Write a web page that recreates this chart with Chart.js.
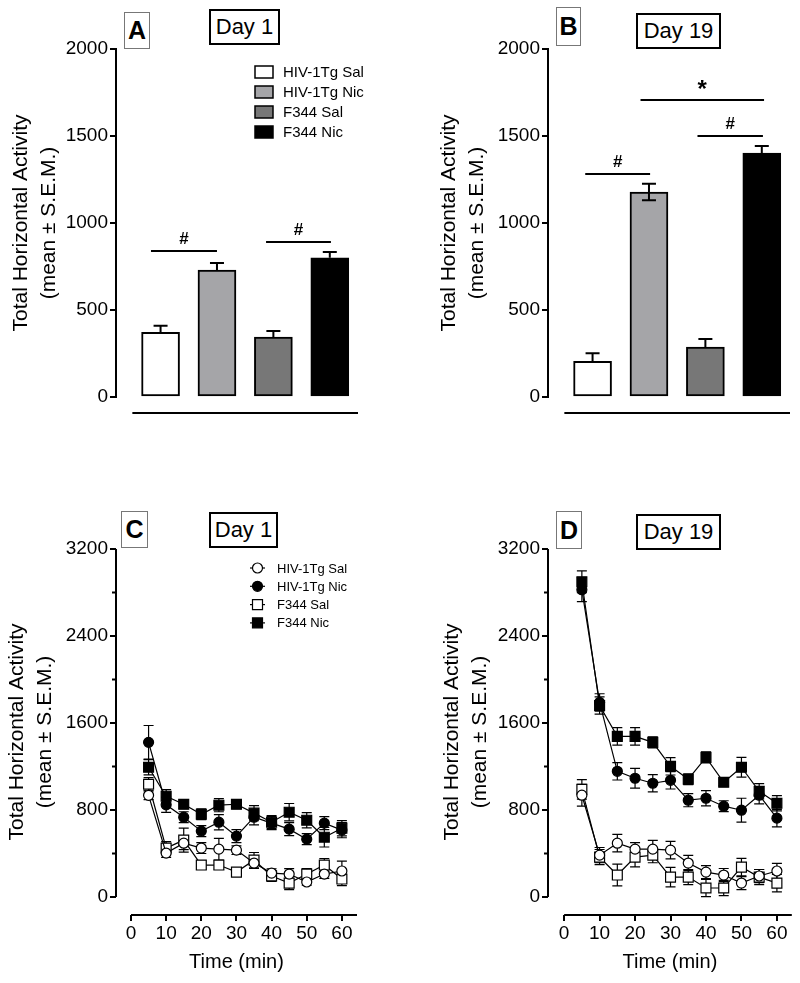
<!DOCTYPE html>
<html>
<head>
<meta charset="utf-8">
<script src="https://cdn.jsdelivr.net/npm/chart.js@4.4.1/dist/chart.umd.min.js"></script>
<style>
    body { margin: 0; background: #fff; }
    #page { position: relative; width: 800px; height: 983px; overflow: hidden; font-family: "Liberation Sans", Arial, sans-serif; }
    canvas { position: absolute; }
    .tag { position: absolute; box-sizing: border-box; display: flex; align-items: center; justify-content: center;
           border: 2px solid #000; background: #fff; font-size: 22px; color: #000; }
    .letter { border: 1px solid #777; font-weight: bold; font-size: 25px; }
</style>
</head>
<body>
<div id="page">
    <canvas id="chartA" width="400" height="440" style="left:0;top:0"></canvas>
    <canvas id="chartB" width="400" height="440" style="left:400px;top:0"></canvas>
    <canvas id="chartC" width="400" height="483" style="left:0;top:500px"></canvas>
    <canvas id="chartD" width="400" height="483" style="left:400px;top:500px"></canvas>

    <div class="tag letter" style="left:124px;top:12px;width:26px;height:37px">A</div>
    <div class="tag" style="left:209px;top:9px;width:71px;height:36px">Day 1</div>
    <div class="tag letter" style="left:556px;top:7px;width:25px;height:39px">B</div>
    <div class="tag" style="left:636px;top:13px;width:85px;height:36px">Day 19</div>
    <div class="tag letter" style="left:121px;top:511px;width:27px;height:37px">C</div>
    <div class="tag" style="left:209px;top:512px;width:69px;height:36px">Day 1</div>
    <div class="tag letter" style="left:556px;top:511px;width:26px;height:38px">D</div>
    <div class="tag" style="left:636px;top:514px;width:85px;height:36px">Day 19</div>
</div>
<script>
Chart.defaults.font.family = '"Liberation Sans", Arial, sans-serif';
Chart.defaults.color = '#000';
Chart.defaults.animation = false;

// groups and bar totals
const groups = ['HIV-1Tg Sal', 'HIV-1Tg Nic', 'F344 Sal', 'F344 Nic'];
const barColors = ['#ffffff', '#a5a5a8', '#777777', '#000000'];
const day1Totals = [372, 730, 345, 800];
const day1Sem = [37, 40, 35, 33];
const day19Totals = [205, 1178, 287, 1402];
const day19Sem = [47, 47, 46, 40];
const barTicks = [0, 500, 1000, 1500, 2000];

// time course (5 min bins)
const times = [5, 10, 15, 20, 25, 30, 35, 40, 45, 50, 55, 60];
const timeTicks = [0, 10, 20, 30, 40, 50, 60];
const activityTicks = [0, 800, 1600, 2400, 3200];
const activityMinor = [400, 1200, 2000, 2800];

const d1HivSal = [935, 404, 495, 450, 440, 431, 312, 220, 211, 138, 211, 239];
const d1HivSalSem = [40, 40, 60, 50, 100, 40, 50, 40, 50, 30, 40, 90];
const d1HivNic = [1422, 848, 734, 606, 688, 560, 734, 679, 624, 532, 679, 615];
const d1HivNicSem = [155, 70, 50, 50, 70, 60, 70, 60, 60, 50, 60, 70];
const d1F344Sal = [1037, 450, 523, 294, 294, 229, 339, 193, 128, 211, 294, 165];
const d1F344SalSem = [60, 60, 110, 40, 40, 30, 70, 50, 60, 50, 60, 60];
const d1F344Nic = [1193, 927, 853, 761, 844, 853, 771, 688, 780, 706, 550, 633];
const d1F344NicSem = [70, 60, 40, 50, 60, 40, 70, 60, 80, 70, 90, 70];

const d19HivSal = [936, 385, 495, 440, 440, 431, 312, 229, 202, 128, 193, 239];
const d19HivSalSem = [100, 70, 80, 60, 80, 80, 70, 60, 60, 60, 60, 70];
const d19HivNic = [2826, 1789, 1156, 1092, 1046, 1073, 890, 908, 835, 798, 936, 725];
const d19HivNicSem = [110, 80, 80, 90, 80, 80, 60, 70, 50, 110, 80, 80];
const d19F344Sal = [990, 367, 202, 367, 385, 183, 183, 83, 83, 275, 183, 128];
const d19F344SalSem = [90, 70, 100, 90, 70, 90, 70, 80, 70, 80, 70, 80];
const d19F344Nic = [2899, 1761, 1477, 1477, 1422, 1202, 1083, 1284, 1055, 1193, 972, 862];
const d19F344NicSem = [100, 80, 80, 80, 50, 80, 50, 50, 30, 90, 70, 70];

const yTitle = ['Total Horizontal Activity', '(mean \u00b1 S.E.M.)'];

// error bars: under the markers for lines, over the bars for bars
function drawErrors(chart) {
    const ctx = chart.ctx;
    const ys = chart.scales.y;
    chart.data.datasets.forEach((ds, di) => {
        if (!ds.sem) return;
        const meta = chart.getDatasetMeta(di);
        const cap = ds.capHalf || 5;
        ctx.save();
        ctx.strokeStyle = '#000';
        ctx.lineWidth = ds.errWidth || 1.3;
        meta.data.forEach((el, i) => {
            const v = ds.data[i].y;
            const top = ys.getPixelForValue(v + ds.sem[i]);
            const bot = ds.errDown ? ys.getPixelForValue(v - ds.sem[i]) : ys.getPixelForValue(v);
            ctx.beginPath();
            ctx.moveTo(el.x, top);
            ctx.lineTo(el.x, bot);
            ctx.moveTo(el.x - cap, top);
            ctx.lineTo(el.x + cap, top);
            if (ds.errDown) {
                ctx.moveTo(el.x - cap, bot);
                ctx.lineTo(el.x + cap, bot);
            }
            ctx.stroke();
        });
        ctx.restore();
    });
}

const errorBars = {
    id: 'errorBars',
    beforeDatasetsDraw(chart) { if (chart.config.type === 'line') drawErrors(chart); },
    afterDatasetsDraw(chart) { if (chart.config.type === 'bar') drawErrors(chart); }
};

// GraphPad style detached axes
const graphAxes = {
    id: 'graphAxes',
    afterDraw(chart, args, opts) {
        const ctx = chart.ctx, xs = chart.scales.x, ys = chart.scales.y, area = chart.chartArea;
        ctx.save();
        ctx.strokeStyle = '#000';
        ctx.lineWidth = 2;
        ctx.beginPath();
        if (opts.baseline) {
            const yb = area.bottom + opts.baseline.offset;
            ctx.moveTo(xs.getPixelForValue(opts.baseline.from), yb);
            ctx.lineTo(xs.getPixelForValue(opts.baseline.to), yb);
        }
        if (opts.detached) {
            ctx.moveTo(area.left, ys.getPixelForValue(0));
            ctx.lineTo(area.left, ys.getPixelForValue(ys.max));
            ctx.moveTo(xs.getPixelForValue(0), area.bottom);
            ctx.lineTo(xs.getPixelForValue(xs.max), area.bottom);
        }
        (opts.minor || []).forEach(v => {
            const y = ys.getPixelForValue(v);
            ctx.moveTo(area.left, y);
            ctx.lineTo(area.left - 4, y);
        });
        ctx.stroke();
        ctx.restore();
    }
};

// significance lines
const sigMarks = {
    id: 'sigMarks',
    afterDatasetsDraw(chart, args, opts) {
        if (!opts.items) return;
        const ctx = chart.ctx, xs = chart.scales.x, ys = chart.scales.y;
        ctx.save();
        ctx.strokeStyle = '#000';
        ctx.fillStyle = '#000';
        ctx.lineWidth = 2;
        ctx.textAlign = 'center';
        ctx.textBaseline = 'middle';
        opts.items.forEach(it => {
            const x0 = xs.getPixelForValue(it.from), x1 = xs.getPixelForValue(it.to);
            const y = ys.getPixelForValue(it.at);
            ctx.beginPath();
            ctx.moveTo(x0, y);
            ctx.lineTo(x1, y);
            ctx.stroke();
            ctx.font = it.mark === '*' ? 'bold 24px "Liberation Sans"' : 'bold 17px "Liberation Sans"';
            ctx.fillText(it.mark, (x0 + x1) / 2, y - (it.mark === '*' ? 10 : 12));
        });
        ctx.restore();
    }
};

// legends drawn inside the plot
const innerLegend = {
    id: 'innerLegend',
    afterDraw(chart, args, opts) {
        if (!opts.kind) return;
        const ctx = chart.ctx, area = chart.chartArea;
        ctx.save();
        ctx.font = opts.fontSize + 'px "Liberation Sans"';
        ctx.textBaseline = 'middle';
        ctx.textAlign = 'left';
        chart.data.datasets.forEach((ds, i) => {
            const x = area.left + opts.dx;
            const y = area.top + opts.dy + i * opts.gap;
            ctx.strokeStyle = '#000';
            if (opts.kind === 'box') {
                ctx.fillStyle = ds.backgroundColor;
                ctx.lineWidth = 1.5;
                ctx.fillRect(x, y - 6, 18, 12);
                ctx.strokeRect(x, y - 6, 18, 12);
                ctx.fillStyle = '#000';
                ctx.fillText(ds.label, x + 28, y + 1);
            } else {
                ctx.lineWidth = 1.2;
                ctx.beginPath();
                ctx.moveTo(x, y);
                ctx.lineTo(x + 15, y);
                ctx.stroke();
                ctx.fillStyle = ds.pointBackgroundColor;
                ctx.beginPath();
                if (ds.pointStyle === 'rect') ctx.rect(x + 2.5, y - 5, 10, 10);
                else ctx.arc(x + 7.5, y, 5, 0, Math.PI * 2);
                ctx.fill();
                ctx.stroke();
                ctx.fillStyle = '#000';
                ctx.fillText(ds.label, x + 27, y + 1);
            }
        });
        ctx.restore();
    }
};

function barConfig(totals, sem, yTitlePad, axisWidth, padRight, sigItems, legendOn, downIdx) {
    return {
        type: 'bar',
        data: {
            datasets: groups.map((g, i) => ({
                label: g,
                data: [{ x: i + 1, y: totals[i] }],
                sem: [sem[i]],
                errDown: i === downIdx,
                capHalf: 7,
                errWidth: 2,
                backgroundColor: barColors[i],
                borderColor: '#000',
                borderWidth: 2,
                borderSkipped: false,
                barThickness: 38,
                grouped: false
            }))
        },
        options: {
            responsive: false,
            layout: { padding: { left: 0, top: 49, right: padRight, bottom: 43 } },
            scales: {
                x: { type: 'linear', min: 0.21, max: 4.5, offset: false, display: false },
                y: {
                    min: 0, max: 2000,
                    afterBuildTicks: s => { s.ticks = barTicks.map(v => ({ value: v })); },
                    afterFit: s => { s.width = axisWidth; },
                    border: { display: true, color: '#000', width: 2 },
                    grid: { drawOnChartArea: false, color: '#000', lineWidth: 2, tickLength: 6 },
                    ticks: { font: { size: 19 }, padding: 2, color: '#000', callback: v => String(v) },
                    title: {
                        display: true, text: yTitle, color: '#000',
                        font: { size: 21, lineHeight: 1.3 },
                        padding: { top: yTitlePad, bottom: 0 }
                    }
                }
            },
            plugins: {
                legend: { display: false },
                tooltip: { enabled: false },
                graphAxes: { baseline: { from: 0.5, to: 4.5, offset: 16 } },
                sigMarks: { items: sigItems },
                innerLegend: legendOn ? { kind: 'box', dx: 139, dy: 23, gap: 20, fontSize: 15 } : {}
            }
        },
        plugins: [errorBars, graphAxes, sigMarks, innerLegend]
    };
}

function series(label, vals, sem, style, filled) {
    return {
        label: label,
        data: times.map((t, i) => ({ x: t, y: vals[i] })),
        sem: sem,
        errDown: true,
        capHalf: 5,
        errWidth: 1.2,
        borderColor: '#000',
        borderWidth: 1.2,
        pointStyle: style,
        pointRadius: style === 'rect' ? 7 : 5,
        pointBackgroundColor: filled ? '#000' : '#fff',
        pointBorderColor: '#000',
        pointBorderWidth: 1.2,
        tension: 0
    };
}

function lineConfig(sets, xMin, xMax, yTitlePad, axisWidth, padRight, legendOn) {
    return {
        type: 'line',
        data: { datasets: sets },
        options: {
            responsive: false,
            layout: { padding: { left: 0, top: 49, right: padRight, bottom: 0 } },
            scales: {
                x: {
                    type: 'linear', min: xMin, max: xMax,
                    afterBuildTicks: s => { s.ticks = timeTicks.map(v => ({ value: v })); },
                    afterFit: s => { s.height = 68; },
                    border: { display: false },
                    grid: { drawOnChartArea: false, color: '#000', lineWidth: 2, tickLength: 6 },
                    ticks: { font: { size: 19 }, padding: 1, color: '#000', maxRotation: 0 },
                    title: {
                        display: true, text: 'Time (min)', color: '#000',
                        font: { size: 20, lineHeight: 1.2 },
                        padding: { top: 2, bottom: 9 }
                    }
                },
                y: {
                    min: -165.5, max: 3200,
                    afterBuildTicks: s => { s.ticks = activityTicks.map(v => ({ value: v })); },
                    afterFit: s => { s.width = axisWidth; },
                    border: { display: false },
                    grid: { drawOnChartArea: false, color: '#000', lineWidth: 2, tickLength: 6 },
                    ticks: { font: { size: 19 }, padding: 2, color: '#000', callback: v => String(v) },
                    title: {
                        display: true, text: yTitle, color: '#000',
                        font: { size: 21, lineHeight: 1.3 },
                        padding: { top: yTitlePad, bottom: 0 }
                    }
                }
            },
            plugins: {
                legend: { display: false },
                tooltip: { enabled: false },
                graphAxes: { detached: true, minor: activityMinor },
                innerLegend: legendOn ? { kind: 'line', dx: 134, dy: 19, gap: 18.3, fontSize: 13 } : {}
            }
        },
        plugins: [errorBars, graphAxes, innerLegend]
    };
}

const day1Sig = [
    { from: 0.83, to: 2.0, at: 839, mark: '#' },
    { from: 2.87, to: 4.02, at: 891, mark: '#' }
];
const day19Sig = [
    { from: 0.87, to: 2.02, at: 1282, mark: '#' },
    { from: 1.85, to: 4.04, at: 1707, mark: '*' },
    { from: 2.86, to: 4.02, at: 1500, mark: '#' }
];

const chartA = new Chart(document.getElementById('chartA'),
    barConfig(day1Totals, day1Sem, 8, 116, 42, day1Sig, true, -1));
const chartB = new Chart(document.getElementById('chartB'),
    barConfig(day19Totals, day19Sem, 36, 148, 10, day19Sig, false, 1));

const chartC = new Chart(document.getElementById('chartC'), lineConfig([
    series(groups[0], d1HivSal, d1HivSalSem, 'circle', false),
    series(groups[1], d1HivNic, d1HivNicSem, 'circle', true),
    series(groups[2], d1F344Sal, d1F344SalSem, 'rect', false),
    series(groups[3], d1F344Nic, d1F344NicSem, 'rect', true)
], -4.27, 64.3, 4, 116, 43, true));

const chartD = new Chart(document.getElementById('chartD'), lineConfig([
    series(groups[0], d19HivSal, d19HivSalSem, 'circle', false),
    series(groups[1], d19HivNic, d19HivNicSem, 'circle', true),
    series(groups[2], d19F344Sal, d19F344SalSem, 'rect', false),
    series(groups[3], d19F344Nic, d19F344NicSem, 'rect', true)
], -4.55, 64.2, 39, 148, 8, false));
</script>
</body>
</html>
